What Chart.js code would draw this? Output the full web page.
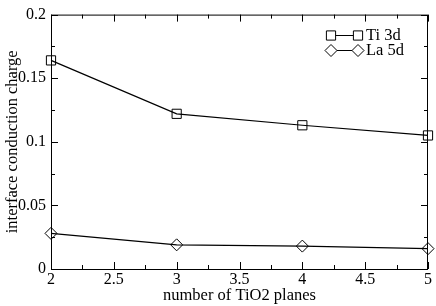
<!DOCTYPE html>
<html>
<head>
<meta charset="utf-8">
<script src="https://cdn.jsdelivr.net/npm/chart.js@4"></script>
<style>
  body { margin: 0; background: #fff; }
  canvas { display: block; }
</style>
</head>
<body>
<canvas id="chart" width="436" height="306"></canvas>
<script>
// data
const planes = [2, 3, 4, 5];
const ti3d = [0.164, 0.122, 0.113, 0.105];
const la5d = [0.028, 0.019, 0.018, 0.016];
const seriesNames = ['Ti 3d', 'La 5d'];
const xTicks = [2, 2.5, 3, 3.5, 4, 4.5, 5];
const yTicks = [0, 0.05, 0.1, 0.15, 0.2];

const FONT = '"Liberation Serif", "DejaVu Serif", serif';

// frame with inward ticks on all four sides + legend
const framePlugin = {
  id: 'frame',
  afterDraw(chart) {
    const { ctx, chartArea: a, scales: { x, y } } = chart;
    ctx.save();
    ctx.strokeStyle = '#000';
    ctx.lineWidth = 1;
    ctx.strokeRect(a.left + 0.5, a.top + 0.5, a.right - a.left - 1, a.bottom - a.top);

    ctx.beginPath();
    for (let v = 2; v <= 5.001; v += 0.25) {
      const px = Math.round(x.getPixelForValue(v)) + 0.5;
      const len = Math.abs((v * 2) % 1) < 1e-6 ? 7 : 4;
      ctx.moveTo(px, a.bottom); ctx.lineTo(px, a.bottom - len);
      ctx.moveTo(px, a.top); ctx.lineTo(px, a.top + len);
    }
    for (let v = 0; v <= 0.2001; v += 0.025) {
      const py = Math.round(y.getPixelForValue(v)) + 0.5;
      const len = Math.abs((v / 0.05) - Math.round(v / 0.05)) < 1e-6 ? 7 : 4;
      ctx.moveTo(a.left, py); ctx.lineTo(a.left + len, py);
      ctx.moveTo(a.right, py); ctx.lineTo(a.right - len, py);
    }
    ctx.stroke();

    // legend: marker - line - marker, then label
    const styles = ['rect', 'rectRot'];
    const radii = [6.5, 6];
    ctx.textBaseline = 'middle';
    seriesNames.forEach((name, i) => {
      const ly = 35 + i * 15;
      const x0 = 331, x1 = 358;
      ctx.beginPath();
      ctx.moveTo(x0, ly + 0.5); ctx.lineTo(x1, ly + 0.5);
      ctx.stroke();
      ctx.fillStyle = '#fff';
      Chart.helpers.drawPoint(ctx, { pointStyle: styles[i], radius: radii[i], borderWidth: 1 }, x0, ly + 0.5);
      Chart.helpers.drawPoint(ctx, { pointStyle: styles[i], radius: radii[i], borderWidth: 1 }, x1, ly + 0.5);
      ctx.fillStyle = '#000';
      ctx.font = '16.5px ' + FONT;
      ctx.fillText(name, 366, ly + 1);
    });
    ctx.restore();
  }
};

const fmt = v => String(+(+v).toFixed(3));

new Chart(document.getElementById('chart'), {
  type: 'scatter',
  data: {
    datasets: [
      {
        label: seriesNames[0],
        data: planes.map((p, i) => ({ x: p, y: ti3d[i] })),
        showLine: true,
        borderColor: '#000',
        borderWidth: 1.2,
        backgroundColor: 'rgba(0,0,0,0)',
        pointStyle: 'rect',
        pointRadius: 6.5,
        pointBorderWidth: 1,
        pointBorderColor: '#000'
      },
      {
        label: seriesNames[1],
        data: planes.map((p, i) => ({ x: p, y: la5d[i] })),
        showLine: true,
        borderColor: '#000',
        borderWidth: 1.2,
        backgroundColor: 'rgba(0,0,0,0)',
        pointStyle: 'rectRot',
        pointRadius: 6,
        pointBorderWidth: 1,
        pointBorderColor: '#000'
      }
    ]
  },
  options: {
    responsive: false,
    animation: false,
    clip: false,
    layout: { padding: { top: 7, right: 8, left: 0, bottom: 0 } },
    plugins: { legend: { display: false }, tooltip: { enabled: false } },
    scales: {
      x: {
        type: 'linear',
        min: 2, max: 5,
        afterFit: s => { s.height = 37; },
        afterBuildTicks: s => { s.ticks = xTicks.map(v => ({ value: v })); },
        grid: { display: false, drawTicks: false },
        border: { display: false },
        ticks: { color: '#000', font: { family: FONT, size: 16 }, padding: 1, maxRotation: 0, callback: fmt },
        title: { display: true, text: 'number of TiO2 planes', color: '#000', font: { family: FONT, size: 16.5 }, padding: { top: 0, bottom: 0 } }
      },
      y: {
        type: 'linear',
        min: 0, max: 0.2,
        afterFit: s => { s.width = 51; },
        afterBuildTicks: s => { s.ticks = yTicks.map(v => ({ value: v })); },
        grid: { display: false, drawTicks: false },
        border: { display: false },
        ticks: { color: '#000', font: { family: FONT, size: 16 }, padding: 5, callback: fmt },
        title: { display: true, text: 'interface conduction charge', color: '#000', font: { family: FONT, size: 16.5 }, padding: { top: 3, bottom: 0 } }
      }
    }
  },
  plugins: [framePlugin]
});
</script>
</body>
</html>
